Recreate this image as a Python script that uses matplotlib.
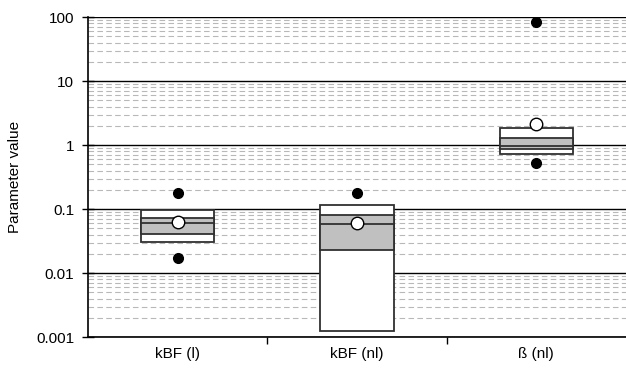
import matplotlib
matplotlib.use("Agg")
import matplotlib.pyplot as plt
from matplotlib.ticker import LogLocator, NullFormatter, FixedLocator
import numpy as np

plt.rcParams['font.family'] = ['Liberation Sans', 'DejaVu Sans']

labels = ['kBF (l)', 'kBF (nl)', 'ß (nl)']
box_low = [0.0305, 0.00125, 0.72]
box_high = [0.095, 0.117, 1.82]
band_low = [0.0407, 0.023, 0.87]
band_high = [0.0716, 0.081, 1.27]
medians = [0.060, 0.058, 0.98]
means = [0.062, 0.060, 2.1]
lows = [0.017, None, 0.52]
highs = [0.18, 0.176, 83]

fig = plt.figure(figsize=(6.26, 3.72), dpi=100)
ax = fig.add_axes([0.1406, 0.094, 0.8594, 0.860])

x = np.arange(len(labels))
w = 0.41
edge = '#303030'

ax.bar(x, np.array(box_high) - np.array(box_low), bottom=box_low, width=w,
       color='white', edgecolor=edge, linewidth=1.3, zorder=3)
ax.bar(x, np.array(band_high) - np.array(band_low), bottom=band_low, width=w,
       color='#c0c0c0', edgecolor=edge, linewidth=1.3, zorder=4)
ax.hlines(medians, x - w / 2, x + w / 2, colors=edge, linewidth=1.3, zorder=5)

for xi, lo, hi in zip(x, lows, highs):
    for v in (lo, hi):
        if v is not None:
            ax.plot(xi, v, 'o', color='black', markersize=7, zorder=6)
ax.plot(x, means, 'o', markerfacecolor='white', markeredgecolor='black',
        markeredgewidth=1.0, markersize=9, linestyle='none', zorder=7)

ax.set_yscale('log')
ax.set_ylim(0.001, 100)
ax.set_xlim(-0.5, 2.5)
ax.yaxis.set_minor_locator(LogLocator(base=10, subs=np.arange(2, 10), numticks=20))
ax.yaxis.set_minor_formatter(NullFormatter())
ax.set_yticks([0.001, 0.01, 0.1, 1, 10, 100])
ax.set_yticklabels(['0.001', '0.01', '0.1', '1', '10', '100'])

ax.grid(which='major', axis='y', color='black', linewidth=1.0, zorder=0)
ax.grid(which='minor', axis='y', color='#b8b8b8', linestyle=(0, (5, 3)),
        linewidth=0.8, zorder=0)
ax.set_axisbelow(True)

ax.set_xticks(x)
ax.set_xticklabels(labels)
ax.tick_params(axis='x', which='major', length=0, pad=7, labelsize=11)
ax.xaxis.set_minor_locator(FixedLocator([0.5, 1.5]))
ax.tick_params(axis='x', which='minor', length=5, direction='out', width=1)
ax.tick_params(axis='y', which='major', length=8, direction='inout', width=1,
               labelsize=11, pad=6)
ax.tick_params(axis='y', which='minor', length=0)

for side in ('top', 'right'):
    ax.spines[side].set_visible(False)
for side in ('left', 'bottom'):
    ax.spines[side].set_linewidth(1.2)

ax.set_ylabel('Parameter value', fontsize=11, labelpad=10)

fig.savefig('out.png', dpi=100)
